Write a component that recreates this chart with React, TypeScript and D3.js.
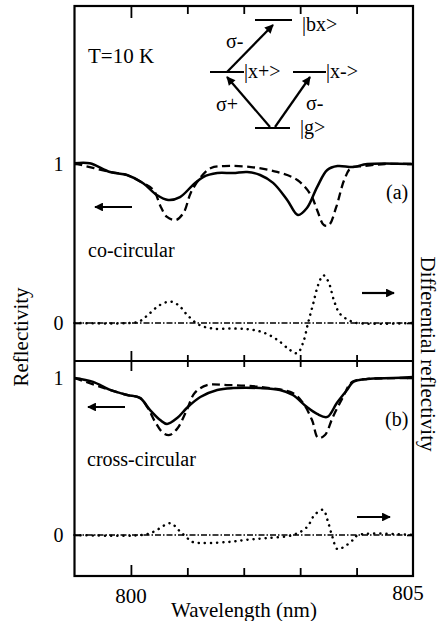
import * as d3 from 'd3';
import { useEffect, useRef } from 'react';

// wavelength (nm) / reflectivity pairs
const coSolidNm = [799.0, 799.27, 799.63, 799.93, 800.21, 800.46, 800.66, 800.87, 801.1, 801.28, 801.53, 801.81, 802.06, 802.29, 802.52, 802.77, 802.96, 803.12, 803.3, 803.48, 803.66, 803.94, 804.19, 805.0];
const coSolidR = [1.005, 1.005, 0.95, 0.931, 0.881, 0.805, 0.774, 0.792, 0.868, 0.918, 0.943, 0.943, 0.95, 0.931, 0.881, 0.774, 0.679, 0.723, 0.855, 0.962, 0.987, 0.981, 1.0, 1.0];

const coDashNm = [799.0, 799.63, 799.93, 800.21, 800.4, 800.53, 800.64, 800.8, 800.94, 801.06, 801.24, 801.42, 801.65, 802.13, 802.59, 802.95, 803.19, 803.3, 803.42, 803.51, 803.64, 803.78, 803.9, 804.13, 804.5, 805.0];
const coDashR = [1.005, 0.95, 0.931, 0.881, 0.836, 0.73, 0.667, 0.648, 0.698, 0.818, 0.918, 0.975, 0.987, 0.981, 0.95, 0.899, 0.805, 0.711, 0.616, 0.616, 0.73, 0.899, 0.975, 0.987, 1.0, 1.0];

const coDiffNm = [799.0, 800.0, 800.15, 800.3, 800.5, 800.7, 800.85, 801.0, 801.2, 801.45, 801.8, 802.1, 802.35, 802.6, 802.82, 802.95, 803.05, 803.14, 803.23, 803.32, 803.41, 803.5, 803.6, 803.7, 803.85, 804.0, 805.0];
const coDiff = [0, 0, 0.01, 0.05, 0.11, 0.135, 0.11, 0.05, -0.01, -0.035, -0.035, -0.04, -0.06, -0.107, -0.17, -0.19, -0.126, 0, 0.12, 0.24, 0.3, 0.26, 0.14, 0.06, 0.02, 0, 0];

const crossSolidNm = [799.0, 799.33, 799.63, 799.93, 800.16, 800.34, 800.52, 800.64, 800.82, 800.99, 801.23, 801.53, 801.81, 802.29, 802.64, 802.87, 803.12, 803.3, 803.48, 803.65, 803.83, 803.94, 804.19, 804.65, 805.0];
const crossSolidR = [1.0, 0.975, 0.924, 0.892, 0.873, 0.796, 0.732, 0.707, 0.745, 0.809, 0.879, 0.924, 0.936, 0.936, 0.924, 0.892, 0.815, 0.771, 0.752, 0.841, 0.924, 0.975, 0.994, 1.0, 1.006];

const crossDashNm = [799.0, 799.63, 799.93, 800.16, 800.29, 800.43, 800.57, 800.69, 800.83, 800.99, 801.13, 801.35, 801.7, 802.29, 802.87, 803.05, 803.21, 803.32, 803.44, 803.58, 803.76, 803.92, 804.2, 805.0];
const crossDashR = [1.0, 0.924, 0.892, 0.873, 0.815, 0.72, 0.65, 0.637, 0.682, 0.796, 0.904, 0.955, 0.955, 0.943, 0.904, 0.841, 0.732, 0.618, 0.637, 0.752, 0.879, 0.975, 0.994, 1.0];

const crossDiffNm = [799.0, 800.2, 800.4, 800.7, 800.85, 801.0, 801.1, 801.7, 802.06, 802.4, 802.87, 803.12, 803.26, 803.41, 803.48, 803.57, 803.66, 803.8, 803.94, 804.03, 805.0];
const crossDiff = [0, 0, 0.02, 0.075, 0.03, -0.02, -0.045, -0.045, -0.03, -0.02, 0, 0.05, 0.13, 0.16, 0.1, -0.01, -0.09, -0.07, -0.03, 0, 0];

const xTicks = [800, 801, 802, 803, 804];
const xLabels = [800, 805];
const yTicks = [0, 1];

const font = 'Liberation Serif, Times New Roman, serif';

export default function App() {
  const ref = useRef<SVGSVGElement>(null);
  const width = 447;
  const height = 621;

  const frame = { left: 74.5, right: 413, top: 6, bottom: 576, split: 361 };

  useEffect(() => {
    const svg = d3.select(ref.current);
    svg.selectAll('*').remove();

    const x = d3.scaleLinear([799, 805], [frame.left, frame.right]);
    const yA = d3.scaleLinear([0, 1], [323, 164]);
    const yB = d3.scaleLinear([0, 1], [535, 378]);

    const defs = svg.append('defs');
    defs
      .append('marker')
      .attr('id', 'head')
      .attr('viewBox', '0 0 10 10')
      .attr('refX', 9)
      .attr('refY', 5)
      .attr('markerWidth', 5)
      .attr('markerHeight', 4)
      .attr('markerUnits', 'strokeWidth')
      .attr('orient', 'auto')
      .append('path')
      .attr('d', 'M0,0 L10,5 L0,10 z')
      .attr('fill', '#000');

    const zip = (a: number[], b: number[]) => a.map((v, i) => [v, b[i]] as [number, number]);

    const panel = (y: d3.ScaleLinear<number, number>, solid: [number, number][], dash: [number, number][], diff: [number, number][]) => {
      const line = d3
        .line<[number, number]>()
        .x((d) => x(d[0]))
        .y((d) => y(d[1]))
        .curve(d3.curveCatmullRom.alpha(0.5));
      const g = svg.append('g').attr('fill', 'none').attr('stroke', '#000');
      // zero line of the differential signal
      g.append('line')
        .attr('x1', frame.left)
        .attr('x2', frame.right)
        .attr('y1', y(0))
        .attr('y2', y(0))
        .attr('stroke-width', 1.6)
        .attr('stroke-dasharray', '6,2,1.5,2');
      g.append('path').attr('d', line(diff)).attr('stroke-width', 2.5).attr('stroke-linecap', 'round').attr('stroke-dasharray', '0.1,6');
      g.append('path').attr('d', line(dash)).attr('stroke-width', 2.3).attr('stroke-dasharray', '8,4.5');
      g.append('path').attr('d', line(solid)).attr('stroke-width', 2.5);

      // left ticks + labels
      svg
        .append('g')
        .attr('transform', `translate(${frame.left},0)`)
        .call(d3.axisRight(y).tickValues(yTicks).tickSize(6).tickFormat(() => ''))
        .call((s) => s.select('.domain').remove())
        .call((s) => s.selectAll('line').attr('stroke-width', 1.6));
      svg
        .append('g')
        .attr('transform', `translate(${frame.left},0)`)
        .call(d3.axisLeft(y).tickValues(yTicks).tickSize(0).tickPadding(11).tickFormat(d3.format('d')))
        .call((s) => s.select('.domain').remove())
        .call((s) => s.selectAll('text').attr('font-family', font).attr('font-size', 20).attr('fill', '#000'));
      // right ticks
      svg
        .append('g')
        .attr('transform', `translate(${frame.right},0)`)
        .call(d3.axisLeft(y).tickValues(yTicks).tickSize(6).tickFormat(() => ''))
        .call((s) => s.select('.domain').remove())
        .call((s) => s.selectAll('line').attr('stroke-width', 1.6));
    };

    panel(yA, zip(coSolidNm, coSolidR), zip(coDashNm, coDashR), zip(coDiffNm, coDiff));
    panel(yB, zip(crossSolidNm, crossSolidR), zip(crossDashNm, crossDashR), zip(crossDiffNm, crossDiff));

    // x ticks on top, split line (both sides) and bottom
    const xAxis = (y: number, dir: 'down' | 'up', minor: number, major: number) => {
      const gen = dir === 'down' ? d3.axisBottom(x) : d3.axisTop(x);
      [
        [xTicks.filter((t) => t !== 800), minor],
        [[800], major],
      ].forEach(([vals, size]) =>
        svg
          .append('g')
          .attr('transform', `translate(0,${y})`)
          .call(gen.tickValues(vals as number[]).tickSize(size as number).tickFormat(() => ''))
          .call((s) => s.select('.domain').remove())
          .call((s) => s.selectAll('line').attr('stroke-width', 1.8))
      );
    };
    xAxis(frame.top, 'down', 8, 12);
    xAxis(frame.split, 'down', 6, 10);
    xAxis(frame.split, 'up', 6, 10);
    xAxis(frame.bottom, 'up', 8, 11);

    svg
      .append('g')
      .selectAll('text')
      .data(xLabels)
      .join('text')
      .attr('x', (d) => x(d) - (d === 805 ? 5 : 0))
      .attr('y', (d) => (d === 805 ? 600 : 603))
      .attr('text-anchor', 'middle')
      .attr('font-family', font)
      .attr('font-size', 21)
      .text((d) => d);

    // frame and split
    svg
      .append('rect')
      .attr('x', frame.left)
      .attr('y', frame.top)
      .attr('width', frame.right - frame.left)
      .attr('height', frame.bottom - frame.top)
      .attr('fill', 'none')
      .attr('stroke', '#000')
      .attr('stroke-width', 2.2);
    svg
      .append('line')
      .attr('x1', frame.left)
      .attr('x2', frame.right)
      .attr('y1', frame.split)
      .attr('y2', frame.split)
      .attr('stroke', '#000')
      .attr('stroke-width', 2.2);

    const text = (s: string, tx: number, ty: number, size = 20, anchor = 'start', rotate = 0) =>
      svg
        .append('text')
        .attr('transform', `translate(${tx},${ty}) rotate(${rotate})`)
        .attr('text-anchor', anchor)
        .attr('font-family', font)
        .attr('font-size', size)
        .text(s);

    const arrow = (x1: number, y1: number, x2: number, y2: number, w = 2.2) =>
      svg
        .append('line')
        .attr('x1', x1)
        .attr('y1', y1)
        .attr('x2', x2)
        .attr('y2', y2)
        .attr('stroke', '#000')
        .attr('stroke-width', w)
        .attr('marker-end', 'url(#head)');

    const level = (x1: number, x2: number, y: number) =>
      svg.append('line').attr('x1', x1).attr('x2', x2).attr('y1', y).attr('y2', y).attr('stroke', '#000').attr('stroke-width', 1.8);

    text('Wavelength (nm)', 244, 617, 21, 'middle');
    text('Reflectivity', 28, 337, 21, 'middle', -90);
    text('Differential reflectivity', 421, 354, 21, 'middle', 90);

    text('T=10 K', 88, 63, 21);
    text('(a)', 386, 199);
    text('(b)', 385, 426);
    text('co-circular', 88, 257);
    text('cross-circular', 87, 466);

    // which axis each curve belongs to
    arrow(132, 207, 95, 207);
    arrow(362, 293, 394, 293);
    arrow(125, 407, 88, 407);
    arrow(357, 517, 390, 517);

    // level scheme
    level(255, 292, 20);
    level(210, 244, 72);
    level(293, 326, 72);
    level(255, 290, 128);
    text('|bx>', 302, 31);
    text('|x+>', 244, 78);
    text('|x->', 326, 78);
    text('|g>', 300, 134);
    arrow(227, 72, 273, 25);
    arrow(270, 127, 227, 77);
    arrow(275, 127, 310, 77);
    text('σ-', 226, 48);
    text('σ+', 216, 111);
    text('σ-', 306, 110);
  }, []);

  return (
    <svg
      ref={ref}
      width={width}
      height={height}
      style={{ position: 'absolute', left: 0, top: 0, background: '#fff' }}
    ></svg>
  );
}
